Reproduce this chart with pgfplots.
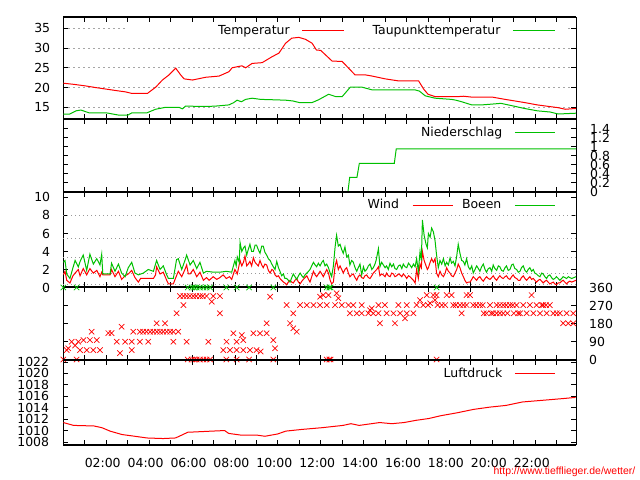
\documentclass[border=0pt]{standalone}
\usepackage{fontspec}
\setmainfont{DejaVu Sans}
\newfontfamily\wmfont{Liberation Sans}
\usepackage{pgfplots}
\pgfplotsset{compat=1.18}
\definecolor{gpred}{RGB}{255,0,0}
\definecolor{gpgreen}{RGB}{0,192,0}
\newcommand\tfont{\fontsize{12.5}{14}\selectfont}
\pgfplotsset{
  panel/.style={
    scale only axis, width=512.7bp, xmin=0, xmax=23.9,
    xtick={0,...,23}, xticklabels={},
    tick align=inside, major tick length=5bp,
    tick style={line width=0.8bp, black},
    separate axis lines, axis x line=box, axis y line=box,
    x axis line style={line width=2bp}, y axis line style={line width=1bp},
    tick label style={font=\tfont, inner sep=0pt},
    /pgf/number format/assume math mode=true,
    /pgf/number format/set thousands separator={},
    legend plot pos=right,
    legend image code/.code={\draw[##1, line width=1bp] (0bp,0bp) -- (40bp,0bp);},
    legend style={draw=none, fill=none, font=\tfont, legend columns=2,
      nodes={inner sep=0pt}, anchor=east},
    every axis plot/.append style={line width=1bp},
  },
}
\begin{document}
\begin{tikzpicture}
\useasboundingbox (0,0) rectangle (640bp,480bp);

% Temperatur
\begin{axis}[panel, at={(63.3bp,360.7bp)}, anchor=south west, height=102bp,
  ymin=11.96, ymax=37.78, ytick={15,20,...,35},
  ymajorgrids, major grid style={dash pattern=on 2bp off 3bp, gray!70, line width=0.6bp},
  yticklabel style={xshift=-13bp},
  legend image code/.code={\draw[#1, line width=1bp] (0bp,0bp) -- (42bp,0bp);},
  legend style={at={(0.966,0.866)},
    /tikz/every odd column/.append style={column sep=12bp},
    /tikz/every even column/.append style={column sep=28bp}}]
\fill[white] (rel axis cs:0.1223,0.812) rectangle (rel axis cs:0.9805,0.954);
\addplot[gpred] coordinates {
(0,21.1) (0.5,20.8) (1.05,20.4) (1.5,20.0) (2.0,19.6) (2.5,19.2) (2.9,18.9)
(3.2,18.5) (3.92,18.5) (4.31,20.1) (4.62,21.9) (4.93,23.2) (5.24,24.9)
(5.47,23.2) (5.63,22.2) (6.02,21.9) (6.64,22.6) (7.26,22.9) (7.72,24.0)
(7.87,25.0) (8.33,25.5) (8.5,25.0) (8.8,26.1) (9.27,26.3) (9.73,27.8)
(10.05,28.7) (10.36,31.2) (10.65,32.5) (10.98,32.7) (11.29,32.2) (11.6,31.2)
(11.8,29.5) (12.0,29.4) (12.53,26.7) (13.0,26.6) (13.6,23.2) (14.08,23.2)
(14.4,22.9) (15.0,22.2) (15.6,21.7) (16.56,21.7) (16.8,19.6) (17.0,18.3)
(17.33,17.7) (18.4,17.7) (18.65,17.8) (19.0,17.6) (19.97,17.6) (20.6,17.0)
(21.5,16.2) (22.1,15.6) (23.07,14.9) (23.4,14.5) (23.9,14.7)};
\addlegendentry{Temperatur}
\addplot[gpgreen] coordinates {
(0,13.3) (0.3,13.3) (0.59,14.1) (0.82,14.3) (1.2,13.6) (2.0,13.6) (2.6,13.0)
(3.0,13.0) (3.2,13.6) (3.9,13.6) (4.3,14.5) (4.77,15.0) (5.4,15.0) (5.55,14.6)
(5.7,15.3) (6.64,15.2) (7.1,15.3) (7.72,15.6) (7.95,16.2) (8.1,16.8) (8.3,16.4)
(8.5,17.0) (8.8,17.3) (9.2,17.0) (9.8,16.9) (10.36,16.8) (10.7,16.6) (11.0,16.2)
(11.6,16.2) (11.9,16.9) (12.37,18.3) (12.7,17.7) (13.0,17.7) (13.38,20.1)
(13.92,20.1) (14.4,19.4) (15.0,19.4) (16.4,19.4) (16.6,19.1) (16.87,17.9)
(17.33,17.3) (18.1,17.0) (18.3,16.8) (18.57,16.4) (19.04,15.6) (19.5,15.6)
(19.97,15.8) (20.4,16.0) (21.0,15.3) (21.5,14.7) (22.1,14.1) (22.7,13.8)
(23.07,13.3) (23.9,13.5)};
\addlegendentry{Taupunkttemperatur}
\end{axis}

% Niederschlag
\begin{axis}[panel, at={(63.3bp,288.3bp)}, anchor=south west, height=72.4bp,
  ymin=0, ymax=1.609, ytick={0,0.2,...,1.4},
  yticklabel pos=right, yticklabel style={xshift=14bp},
  legend style={at={(0.966,0.811)},
    /tikz/every odd column/.append style={column sep=12bp}}]
\addplot[gpgreen] coordinates {
(0,0) (13.27,0) (13.35,0.32) (13.69,0.32) (13.8,0.63) (15.43,0.63)
(15.52,0.95) (23.9,0.95)};
\addlegendentry{Niederschlag}
\end{axis}

% Wind
\begin{axis}[panel, at={(63.3bp,192.5bp)}, anchor=south west, height=95.8bp,
  ymin=0, ymax=10.64, ytick={0,2,...,10},
  yticklabel style={xshift=-13bp},
  extra y ticks={0.3,1.6,3.4,5.5,8}, extra y tick labels={},
  extra y tick style={grid=major, major tick length=0pt},
  major grid style={dash pattern=on 1bp off 3bp, gray!80, line width=0.6bp},
  legend style={at={(0.966,0.861)},
    /tikz/every odd column/.append style={column sep=13bp},
    /tikz/every even column/.append style={column sep=9bp}}]
\addplot[gpred] coordinates {
(0.00,1.4) (0.08,1.8) (0.16,0.8) (0.31,0.5) (0.45,1.3) (0.55,1.6) (0.70,2.0)
(0.78,1.3) (0.93,2.1) (1.09,1.4) (1.24,2.1) (1.40,1.6) (1.56,1.9) (1.71,1.2)
(1.79,1.7) (1.84,1.4) (2.18,1.4) (2.25,2.0) (2.41,1.2) (2.57,1.8) (2.72,0.9)
(2.88,1.3) (3.03,1.5) (3.19,1.9) (3.34,1.1) (3.50,0.6) (3.6,1.0) (3.96,1.0)
(4.2,1.0) (4.3,1.4) (4.35,2.3) (4.51,1.5) (4.66,1.7) (4.82,0.8) (4.90,0.4)
(5.13,0.4) (5.21,0.9) (5.36,1.8) (5.52,1.2) (5.67,2.0) (5.75,2.5) (5.83,1.5)
(5.91,1.5) (6.06,2.0) (6.22,1.2) (6.37,1.7) (6.53,0.8) (6.68,1.1) (6.8,0.8)
(6.99,1.2) (7.15,0.9) (7.3,1.1) (7.45,1.4) (7.6,1.0) (7.75,1.2) (7.85,0.9)
(7.93,1.5) (8.0,2.0) (8.11,1.5) (8.24,3.0) (8.32,2.4) (8.40,2.8) (8.47,3.5)
(8.55,2.4) (8.62,2.6) (8.70,2.9) (8.78,2.4) (8.86,3.3) (8.94,2.8) (9.01,2.6)
(9.09,2.4) (9.17,3.0) (9.25,2.5) (9.32,2.2) (9.40,2.6) (9.48,2.5) (9.56,1.9)
(9.64,1.6) (9.72,2.0) (9.79,1.9) (9.87,1.4) (9.95,1.2) (10.03,1.3) (10.1,1.0)
(10.18,0.8) (10.26,0.6) (10.33,0.5) (10.41,0.3) (10.49,0.6) (10.57,0.8)
(10.65,0.6) (10.72,0.5) (10.8,0.8) (10.88,1.0) (10.96,0.6) (11.04,0.4)
(11.12,0.7) (11.19,0.9) (11.27,1.1) (11.35,1.3) (11.43,0.9) (11.5,0.6)
(11.58,1.2) (11.66,1.8) (11.74,1.4) (11.81,1.2) (11.89,1.5) (11.97,1.8)
(12.05,1.5) (12.12,1.2) (12.2,1.6) (12.28,2.0) (12.36,1.6) (12.44,0.8)
(12.51,0.4) (12.59,0.6) (12.67,2.4) (12.74,3.0) (12.82,2.0) (12.9,2.4)
(12.98,2.0) (13.05,1.6) (13.13,2.0) (13.21,2.2) (13.29,1.6) (13.36,1.2)
(13.44,1.4) (13.52,1.5) (13.6,1.1) (13.68,0.8) (13.75,1.2) (13.83,1.4)
(13.91,1.1) (13.99,1.0) (14.06,1.3) (14.14,1.4) (14.22,1.1) (14.3,1.0)
(14.38,1.3) (14.45,1.6) (14.53,1.8) (14.61,2.0) (14.69,2.3) (14.76,1.3)
(14.84,1.5) (14.92,1.4) (15.0,1.2) (15.07,1.6) (15.15,1.3) (15.23,1.2)
(15.31,1.6) (15.39,1.5) (15.46,1.2) (15.54,1.3) (15.62,1.5) (15.7,1.4)
(15.78,1.2) (15.85,1.5) (15.93,1.3) (16.01,1.0) (16.09,1.3) (16.16,1.2)
(16.24,1.0) (16.32,0.8) (16.4,0.5) (16.47,2.0) (16.55,1.0) (16.63,2.6)
(16.69,2.2) (16.74,4.0) (16.82,3.0) (16.91,2.4) (16.97,2.0) (17.02,2.2)
(17.1,2.8) (17.17,3.2) (17.25,2.8) (17.33,3.2) (17.4,1.6) (17.48,1.2)
(17.56,1.8) (17.64,1.4) (17.72,1.2) (17.8,1.6) (17.87,2.2) (17.95,1.8)
(18.03,1.6) (18.1,1.3) (18.18,1.2) (18.26,1.6) (18.34,2.0) (18.41,2.6)
(18.49,2.2) (18.57,1.6) (18.65,1.2) (18.72,0.8) (18.8,0.5) (18.88,0.6)
(18.96,0.6) (19.04,0.9) (19.11,1.2) (19.19,1.0) (19.27,0.8) (19.35,1.1)
(19.42,1.2) (19.5,0.9) (19.58,0.7) (19.66,1.0) (19.73,1.2) (19.81,1.0)
(19.89,0.9) (19.97,1.1) (20.04,1.3) (20.12,1.0) (20.2,0.8) (20.28,1.1)
(20.35,1.3) (20.43,1.1) (20.51,1.0) (20.59,1.2) (20.66,1.3) (20.74,1.0)
(20.82,0.9) (20.9,1.2) (20.97,1.4) (21.05,1.1) (21.13,1.0) (21.21,0.8)
(21.29,0.8) (21.36,1.1) (21.44,1.3) (21.52,1.0) (21.6,0.8) (21.67,1.0)
(21.75,1.2) (21.83,0.9) (21.91,1.0) (21.98,0.8) (22.06,0.6) (22.14,0.8)
(22.22,0.9) (22.3,0.7) (22.37,0.5) (22.45,0.7) (22.53,0.8) (22.6,0.6)
(22.68,0.4) (22.76,0.5) (22.84,0.6) (22.91,0.4) (22.99,0.3) (23.07,0.5)
(23.15,0.5) (23.23,0.7) (23.3,0.8) (23.38,0.6) (23.46,0.4) (23.54,0.6)
(23.61,0.7) (23.7,0.6) (23.8,0.7) (23.9,0.8)};
\addlegendentry{Wind}
\addplot[gpgreen] coordinates {
(0.00,2.8) (0.08,3.0) (0.16,1.5) (0.31,1.0) (0.45,2.2) (0.55,3.0) (0.70,2.3)
(0.80,3.0) (0.93,3.6) (1.09,1.9) (1.24,3.7) (1.40,2.6) (1.56,3.2) (1.71,2.5)
(1.79,3.7) (1.84,1.5) (2.18,1.5) (2.25,2.7) (2.41,1.8) (2.57,2.6) (2.72,1.6)
(2.88,1.2) (3.03,2.2) (3.19,2.8) (3.34,1.6) (3.50,1.4) (3.73,1.6) (3.96,2.0)
(4.20,1.8) (4.35,3.0) (4.51,2.0) (4.66,2.4) (4.82,1.4) (4.90,1.0) (5.13,1.0)
(5.28,3.1) (5.36,3.2) (5.52,2.0) (5.67,3.0) (5.75,3.6) (5.91,2.5) (6.06,3.0)
(6.22,2.1) (6.37,2.8) (6.53,1.6) (6.68,1.8) (7.0,1.7) (7.3,1.7) (7.6,1.8)
(7.85,1.7) (7.93,2.4) (8.0,3.0) (8.06,2.4) (8.11,3.4) (8.2,2.8) (8.24,5.0)
(8.32,4.0) (8.40,4.4) (8.47,4.6) (8.55,3.6) (8.62,4.2) (8.70,4.8) (8.78,4.0)
(8.86,4.0) (8.94,4.7) (9.01,4.7) (9.09,4.2) (9.17,3.8) (9.25,4.6) (9.32,4.6)
(9.40,3.9) (9.48,3.6) (9.56,3.2) (9.64,3.0) (9.72,2.6) (9.79,2.3) (9.87,2.0)
(9.95,2.9) (10.03,2.2) (10.1,1.8) (10.18,1.3) (10.26,1.5) (10.33,1.0)
(10.41,1.0) (10.49,0.8) (10.57,0.6) (10.65,1.1) (10.72,1.5) (10.8,1.2)
(10.88,0.9) (10.96,1.3) (11.04,1.6) (11.12,1.3) (11.19,1.1) (11.27,1.4)
(11.35,1.6) (11.43,1.8) (11.5,2.0) (11.58,2.4) (11.66,2.8) (11.74,2.5)
(11.81,2.3) (11.89,2.7) (11.97,2.4) (12.05,2.8) (12.12,3.0) (12.2,2.4)
(12.28,2.6) (12.36,2.2) (12.44,1.6) (12.51,1.2) (12.59,2.4) (12.67,4.5)
(12.74,5.8) (12.82,4.6) (12.9,4.8) (12.98,4.2) (13.05,3.8) (13.13,4.5)
(13.21,3.4) (13.29,3.6) (13.36,2.5) (13.44,3.0) (13.52,2.8) (13.6,2.2)
(13.68,1.8) (13.75,2.2) (13.83,2.6) (13.91,1.4) (13.99,2.3) (14.06,1.8)
(14.14,2.0) (14.22,2.4) (14.3,2.6) (14.38,2.0) (14.45,2.2) (14.53,2.6)
(14.58,3.0) (14.69,4.3) (14.76,2.3) (14.84,2.8) (14.92,2.5) (15.0,2.2)
(15.07,2.4) (15.15,2.0) (15.23,2.7) (15.31,2.3) (15.39,2.6) (15.46,2.1)
(15.54,2.0) (15.62,2.4) (15.7,2.5) (15.78,2.1) (15.85,2.6) (15.93,2.3)
(16.01,2.2) (16.09,2.7) (16.16,2.5) (16.24,2.2) (16.32,2.6) (16.4,2.3)
(16.47,3.2) (16.55,1.8) (16.63,4.0) (16.69,3.0) (16.74,7.5) (16.82,5.8)
(16.91,4.8) (16.97,4.4) (17.02,6.0) (17.1,5.6) (17.17,6.6) (17.25,6.2)
(17.33,5.2) (17.4,3.6) (17.48,2.2) (17.56,3.0) (17.64,2.6) (17.72,3.2)
(17.8,2.4) (17.87,2.8) (17.95,2.5) (18.03,3.3) (18.1,2.7) (18.18,2.9)
(18.26,2.4) (18.34,3.5) (18.41,4.8) (18.49,3.8) (18.57,3.0) (18.65,2.9)
(18.72,2.5) (18.8,3.2) (18.88,2.3) (18.96,2.0) (19.04,2.4) (19.11,1.6)
(19.19,2.0) (19.27,2.4) (19.35,2.1) (19.42,1.8) (19.5,2.3) (19.58,2.6)
(19.66,2.0) (19.73,1.7) (19.81,2.1) (19.89,2.2) (19.97,1.8) (20.04,2.5)
(20.12,2.1) (20.2,1.9) (20.28,2.4) (20.35,2.3) (20.43,1.9) (20.51,1.8)
(20.59,2.2) (20.66,2.4) (20.74,1.9) (20.82,2.0) (20.9,2.5) (20.97,2.6)
(21.05,2.1) (21.13,2.0) (21.21,1.7) (21.29,1.8) (21.36,2.2) (21.44,2.4)
(21.52,1.9) (21.6,1.7) (21.67,2.0) (21.75,2.2) (21.83,1.8) (21.91,2.0)
(21.98,1.6) (22.06,1.5) (22.14,1.3) (22.22,1.2) (22.3,1.6) (22.37,1.5)
(22.45,1.2) (22.53,1.0) (22.6,1.3) (22.68,1.4) (22.76,1.1) (22.84,0.9)
(22.91,1.0) (22.99,1.2) (23.07,1.0) (23.15,0.8) (23.23,1.0) (23.3,1.2)
(23.38,1.1) (23.46,1.0) (23.54,1.2) (23.61,1.1) (23.7,1.0) (23.8,1.1)
(23.9,1.2)};
\addlegendentry{Boeen}
\node[anchor=west, font=\tfont, inner sep=0pt, xshift=9bp] at (rel axis cs:1,0.63) {4};
\node[anchor=west, font=\tfont, inner sep=0pt, xshift=9bp] at (rel axis cs:1,0.4135) {3};
\end{axis}

% Windrichtung
\begin{axis}[panel, at={(63.3bp,120bp)}, anchor=south west, height=72.5bp,
  ymin=-2.5, ymax=360, ytick={0,90,...,360},
  yticklabel pos=right, yticklabel style={xshift=13bp}]
\addplot[gpred, only marks, mark=x, mark size=3.8bp, mark options={line width=0.7bp}] coordinates {
(0.16,47) (0.23,56) (0.39,89) (0.55,70) (0.70,89) (0.78,47) (0.94,97) (1.09,47)
(1.24,97) (1.32,139) (1.40,47) (1.56,97) (1.71,47) (2.10,132) (2.25,132)
(2.49,89) (2.64,32) (2.72,164) (2.88,89) (3.19,89) (3.19,47) (3.26,139)
(3.57,89) (3.57,139) (3.72,139) (3.88,139) (3.96,89) (4.05,139) (4.2,139)
(4.35,181) (4.36,139) (4.51,139) (4.66,139) (4.74,181) (4.82,139) (4.98,139)
(5.13,89) (5.13,139) (5.28,231) (5.36,139) (5.44,317) (5.6,272) (5.6,317)
(5.75,89) (5.75,317) (5.9,317) (6.06,317) (6.2,317) (6.37,317) (6.5,317)
(6.68,317) (6.76,89) (6.92,289) (6.99,317) (7.3,231) (7.3,317) (7.46,47)
(7.61,89) (7.77,47) (7.93,131) (8.08,47) (8.08,89) (8.32,122) (8.39,47)
(8.39,97) (8.7,47) (8.86,131) (9.01,47) (9.17,131) (9.2,40) (9.48,131)
(9.48,181) (9.64,314) (9.79,97) (9.87,56) (10.41,272) (10.57,181) (10.72,156)
(10.72,231) (10.88,139) (11.04,272) (11.35,272) (11.66,272) (11.97,314)
(11.97,272) (12.12,322) (12.28,272) (12.36,322) (12.67,272) (12.74,331)
(12.82,306) (12.98,272) (13.29,272) (13.36,231) (13.52,272) (13.68,231)
(13.91,272) (13.91,231) (14.22,231) (14.3,247) (14.38,256) (14.45,231)
(14.69,231) (14.69,272) (14.76,181) (14.99,272) (15.07,231) (15.39,231)
(15.46,181) (15.62,272) (15.7,231) (15.93,206) (16.01,231) (16.01,272)
(16.32,231) (16.47,272) (16.63,297) (16.78,272) (16.94,322) (17.0,272)
(17.1,281) (17.25,322) (17.33,297) (17.4,322) (17.45,272) (17.64,272)
(17.8,272) (17.87,322) (18.1,322) (18.18,272) (18.3,272) (18.49,272)
(18.57,231) (18.65,272) (18.8,322) (18.8,272) (18.96,322) (19.11,272)
(19.25,272) (19.42,272) (19.55,272) (19.6,231) (19.73,231) (19.89,272)
(19.95,231) (20.04,231) (20.2,231) (20.2,272) (20.35,272) (20.35,231)
(20.51,231) (20.51,272) (20.65,272) (20.7,231) (20.82,272) (20.95,272)
(21.0,231) (21.13,272) (21.2,231) (21.29,231) (21.44,272) (21.6,231)
(21.75,272) (21.83,322) (21.91,231) (22.06,272) (22.22,231) (22.3,272)
(22.37,272) (22.5,272) (22.53,231) (22.68,272) (22.84,231) (23.0,231)
(23.15,231) (23.3,181) (23.46,231) (23.54,181) (23.77,231) (23.77,181)
(23.92,189)};
\addplot[gpred, only marks, mark=x, mark size=3.8bp, mark options={line width=0.7bp}] coordinates {
(0,0) (0.62,0) (5.8,0) (5.98,0) (6.1,0) (6.22,0) (6.37,0) (6.53,0) (6.68,0)
(6.84,0) (7.6,0) (8.08,0) (8.66,0) (9.79,0) (12.28,0) (12.4,0) (12.46,0)
(17.4,0)};
\addplot[gpgreen, only marks, mark=x, mark size=3.8bp, mark options={line width=0.7bp}] coordinates {
(0,360) (0.62,360) (5.8,360) (5.98,360) (6.1,360) (6.22,360) (6.37,360)
(6.53,360) (6.68,360) (6.84,360) (7.6,360) (8.08,360) (8.66,360) (9.79,360)
(12.28,360) (12.4,360) (12.46,360) (17.4,360)};
\end{axis}

% Luftdruck
\begin{axis}[panel, at={(63.3bp,35bp)}, anchor=south west, height=85bp,
  ymin=1007.47, ymax=1022.35, ytick={1008,1010,...,1022},
  yticklabel style={xshift=-14bp},
  xticklabels={,,02:00,,04:00,,06:00,,08:00,,10:00,,12:00,,14:00,,16:00,,18:00,,20:00,,22:00,},
  xticklabel style={anchor=north, yshift=-13bp, xshift=-3.5bp},
  legend style={at={(0.966,0.841)},
    /tikz/every odd column/.append style={column sep=12bp}}]
\addplot[gpred] coordinates {
(0,1011.4) (0.48,1010.9) (1.43,1010.8) (1.8,1010.5) (2.18,1009.9) (2.74,1009.3)
(3.33,1009.0) (3.9,1008.7) (4.65,1008.6) (5.23,1008.7) (5.52,1009.2)
(5.8,1009.7) (6.37,1009.8) (6.93,1009.9) (7.52,1010.0) (7.71,1009.5)
(8.28,1009.2) (9.03,1009.2) (9.4,1009.0) (9.99,1009.4) (10.37,1009.9)
(11.13,1010.2) (12.06,1010.5) (13.04,1010.9) (13.41,1011.2) (13.79,1010.9)
(14.75,1011.4) (15.31,1011.2) (15.88,1011.4) (16.46,1011.8) (17.03,1012.1)
(17.6,1012.6) (18.35,1013.1) (19.12,1013.7) (19.88,1014.1) (20.64,1014.4)
(21.4,1015.0) (22.36,1015.3) (23.3,1015.6) (23.88,1015.8)};
\addlegendentry{Luftdruck}
\end{axis}

\node[anchor=east, text=gpred, font=\wmfont\fontsize{10.5}{12}\selectfont, inner sep=0pt]
  at (635.5bp,8.3bp) {http://www.tiefflieger.de/wetter/};
\end{tikzpicture}
\end{document}
